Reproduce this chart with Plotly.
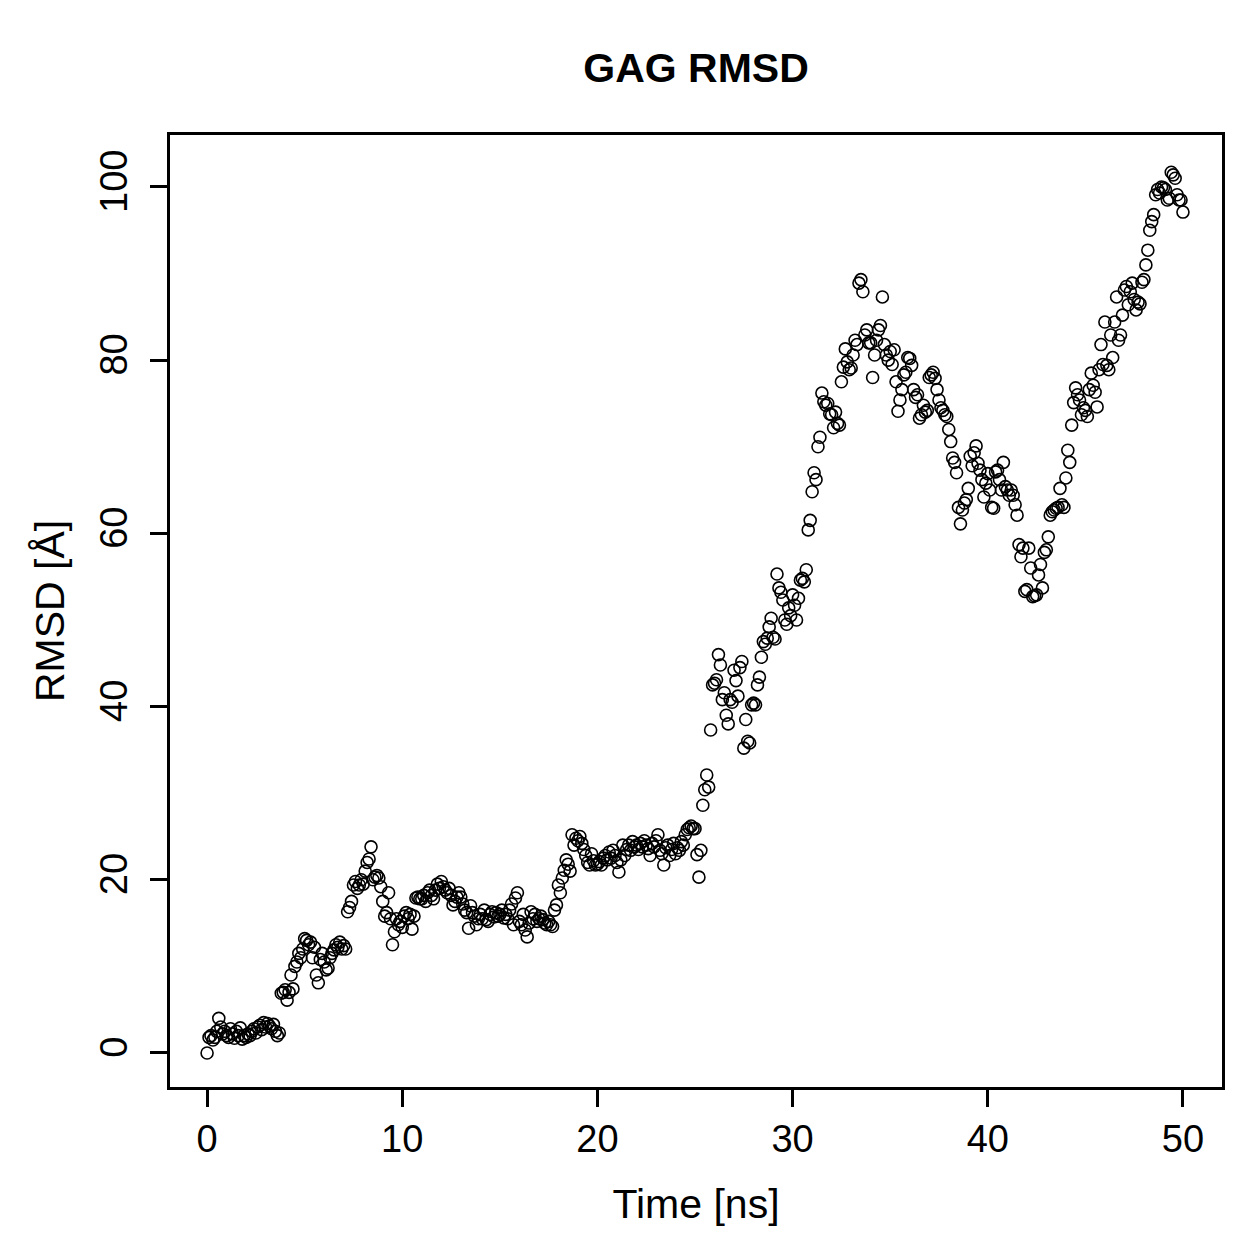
import numpy as np
import plotly.graph_objects as go

# RMSD values, one block of 10 per ns (0.1 ns step)
rmsd_blocks = [
    [0.0, 1.8, 2.0, 1.5, 1.8, 2.5, 4.0, 3.0, 2.2, 2.5],
    [2.0, 1.8, 2.8, 2.2, 1.7, 2.5, 2.0, 2.9, 1.6, 2.0],
    [1.8, 2.2, 2.0, 2.5, 2.8, 2.3, 3.0, 3.2, 2.7, 3.5],
    [3.0, 3.4, 3.1, 2.8, 3.3, 2.5, 2.0, 2.3, 6.9, 7.0],
    [7.3, 6.1, 7.0, 9.0, 7.4, 10.0, 10.5, 11.5, 11.0, 12.0],
    [13.2, 13.0, 12.5, 12.8, 11.0, 12.2, 9.0, 8.1, 10.8, 11.5],
    [10.5, 9.6, 9.8, 11.0, 11.5, 11.9, 12.5, 12.2, 12.8, 12.0],
    [12.4, 12.0, 16.3, 16.8, 17.5, 19.4, 19.8, 19.0, 19.4, 20.0],
    [19.5, 21.0, 22.0, 22.4, 23.8, 20.0, 20.3, 20.5, 20.2, 19.2],
    [17.5, 15.8, 16.2, 18.5, 15.5, 12.5, 14.0, 15.5, 14.8, 15.2],
    [14.5, 15.8, 16.2, 15.5, 16.0, 14.3, 15.8, 17.9, 18.0, 17.8],
    [17.8, 18.2, 17.5, 18.5, 18.8, 18.2, 17.8, 18.8, 19.5, 19.0],
    [19.8, 19.2, 18.8, 18.5, 19.0, 18.2, 17.1, 17.5, 18.0, 18.5],
    [18.0, 17.2, 16.5, 16.2, 14.4, 17.0, 16.2, 15.8, 14.8, 15.5],
    [16.0, 15.5, 16.5, 15.4, 15.2, 16.0, 16.3, 15.7, 16.2, 15.8],
    [16.0, 16.5, 15.6, 16.0, 15.5, 16.5, 17.2, 14.8, 17.9, 18.5],
    [15.2, 14.8, 16.0, 14.2, 13.4, 15.0, 16.3, 15.5, 16.0, 15.2],
    [15.5, 15.8, 15.4, 15.0, 14.8, 15.2, 14.8, 14.6, 16.5, 17.1],
    [19.4, 18.5, 20.2, 21.1, 22.3, 21.8, 21.0, 25.2, 24.0, 24.8],
    [24.5, 25.0, 24.2, 23.5, 22.8, 22.0, 21.7, 23.0, 22.2, 21.7],
    [21.8, 22.1, 21.7, 22.5, 22.8, 22.3, 23.2, 22.5, 23.4, 22.8],
    [22.0, 20.9, 22.3, 24.0, 22.8, 23.5, 24.0, 23.4, 24.4, 23.8],
    [24.0, 23.5, 24.2, 23.8, 24.5, 24.0, 23.6, 22.8, 24.2, 23.8],
    [24.5, 25.2, 23.4, 23.0, 21.7, 23.7, 24.0, 22.8, 23.5, 24.2],
    [23.0, 23.7, 23.4, 24.4, 24.0, 25.2, 25.8, 26.0, 26.2, 25.9],
    [25.9, 22.9, 20.3, 23.4, 28.6, 30.4, 32.1, 30.7, 37.3, 42.5],
    [42.7, 43.1, 46.0, 44.8, 40.8, 41.6, 39.0, 38.0, 40.8, 40.5],
    [44.2, 43.0, 41.2, 44.5, 45.2, 35.2, 38.5, 36.0, 35.8, 40.2],
    [40.4, 40.2, 42.5, 43.4, 45.7, 47.5, 47.2, 47.9, 49.2, 50.2],
    [48.0, 47.8, 55.3, 53.7, 53.2, 52.3, 50.0, 49.5, 51.4, 50.5],
    [52.9, 51.7, 50.0, 52.5, 54.6, 54.8, 54.4, 55.8, 60.4, 61.5],
    [64.8, 67.0, 66.2, 70.0, 71.1, 76.2, 75.2, 74.8, 75.0, 73.8],
    [73.7, 72.2, 74.0, 72.7, 72.5, 77.5, 79.2, 81.3, 79.8, 78.9],
    [79.1, 80.6, 82.3, 81.8, 88.9, 89.3, 87.9, 82.9, 83.5, 82.0],
    [82.0, 78.0, 80.6, 82.3, 83.5, 84.0, 87.3, 81.8, 80.6, 80.0],
    [81.0, 79.5, 81.2, 77.5, 74.1, 75.4, 76.6, 78.3, 78.6, 80.3],
    [80.2, 79.4, 76.6, 75.7, 76.0, 73.3, 73.7, 74.8, 74.0, 74.2],
    [78.0, 78.3, 78.6, 77.9, 76.6, 75.4, 74.5, 74.2, 73.7, 73.5],
    [72.0, 70.6, 68.7, 68.2, 67.0, 63.0, 61.1, 62.7, 63.5, 63.9],
    [65.2, 68.9, 67.8, 69.3, 70.1, 68.1, 67.3, 66.2, 64.2, 65.8],
    [66.9, 65.0, 63.0, 62.9, 67.1, 67.3, 66.2, 65.0, 68.2, 65.4],
    [65.0, 64.4, 65.0, 64.4, 63.3, 62.1, 58.7, 57.3, 58.3, 53.3],
    [53.5, 58.3, 56.0, 52.7, 52.8, 52.9, 55.2, 56.4, 53.7, 57.8],
    [58.1, 59.6, 62.1, 62.5, 62.7, 62.9, 63.0, 65.2, 63.3, 63.0],
    [66.4, 69.6, 68.2, 72.5, 75.1, 76.8, 76.0, 75.4, 73.7, 74.5],
    [74.2, 73.5, 76.6, 78.5, 77.1, 76.3, 74.6, 78.9, 81.8, 79.5],
    [84.4, 79.4, 78.9, 82.9, 80.3, 84.4, 87.3, 82.3, 82.9, 85.2],
    [88.1, 88.5, 86.4, 87.9, 88.9, 87.0, 85.8, 86.7, 86.5, 89.0],
    [89.3, 91.0, 92.7, 95.0, 96.0, 96.8, 99.1, 99.7, 99.3, 100.0],
    [99.9, 99.7, 98.5, 98.7, 101.7, 101.4, 101.0, 99.1, 98.5, 98.5],
    [97.1],
]
rmsd = [v for block in rmsd_blocks for v in block]
time_ns = [i * 0.1 for i in range(len(rmsd))]

x_ticks = [0, 10, 20, 30, 40, 50]
y_ticks = [0, 20, 40, 60, 80, 100]

FONT = "Liberation Sans, Arial, sans-serif"

fig = go.Figure(go.Scatter(
    x=time_ns, y=rmsd, mode="markers",
    marker=dict(symbol="circle-open", size=12, color="black",
                line=dict(width=1.6, color="black")),
    showlegend=False,
))

axis_common = dict(
    showgrid=False, zeroline=False, showline=True, mirror=True,
    linecolor="black", linewidth=2.5, ticks="outside", ticklen=17,
    tickwidth=2.5, tickcolor="black",
    tickfont=dict(family=FONT, size=38, color="black"),
)

fig.update_layout(
    width=1259, height=1259,
    margin=dict(l=170, r=37, t=135, b=172),
    paper_bgcolor="white", plot_bgcolor="white",
    title=dict(text="<b>GAG RMSD</b>", x=0.5, xanchor="center",
               xref="paper", y=1 - 68 / 1259, yanchor="middle",
               font=dict(family=FONT, size=41, color="black")),
    xaxis=dict(range=[-1.9, 52.0], tickvals=x_ticks, ticklabelstandoff=0,
               title=dict(text="Time [ns]", standoff=30,
                          font=dict(family=FONT, size=41, color="black")),
               **axis_common),
    yaxis=dict(range=[-3.93, 106.0], tickvals=y_ticks, tickangle=-90,
               ticklabelstandoff=8,
               title=dict(text="RMSD [Å]", standoff=16,
                          font=dict(family=FONT, size=41, color="black")),
               **axis_common),
)

fig.write_html("out.html")
